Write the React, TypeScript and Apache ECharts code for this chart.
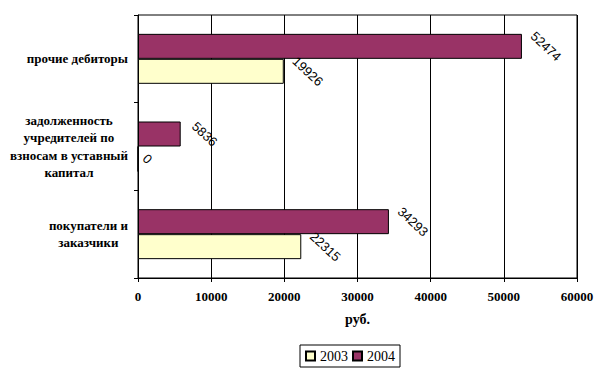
import React, { useEffect, useRef } from "react";
import * as echarts from "echarts";

const categories = [
  "покупатели и\nзаказчики",
  "задолженность\nучредителей по\nвзносам в уставный\nкапитал",
  "прочие дебиторы",
];
const seriesNames = ["2003", "2004"];
const values2003 = [22315, 0, 19926];
const values2004 = [34293, 5836, 52474];
const xTicks = { min: 0, max: 60000, interval: 10000 };
const axisName = "руб.";

const SERIF = "Liberation Serif";
const SANS = "Liberation Sans";

export default function App() {
  const ref = useRef<HTMLDivElement>(null);
  useEffect(() => {
    if (!ref.current) return;
    const chart = echarts.init(ref.current, undefined, { renderer: "svg" });
    const valueLabel = (data: number[]) =>
      data.map((v) => ({
        value: v,
        label: { distance: String(v).length < 3 ? 9 : 24 },
      }));
    const labelCfg = {
      show: true,
      position: "right",
      rotate: -43,
      align: "center",
      verticalAlign: "middle",
      fontFamily: SANS,
      fontSize: 13,
      fontWeight: "normal",
      color: "#000",
    };
    chart.setOption({
      animation: false,
      backgroundColor: "#fff",
      textStyle: { fontFamily: SERIF, color: "#000" },
      grid: {
        left: 138,
        right: 35,
        top: 15,
        bottom: 101,
        outerBoundsMode: "none",
        containLabel: false,
        show: true,
        borderColor: "#000",
        borderWidth: 1,
      },
      legend: {
        data: seriesNames,
        left: 300,
        top: 345,
        padding: [4, 5],
        itemGap: 4,
        itemWidth: 9,
        itemHeight: 9,
        icon: "rect",
        borderColor: "#000",
        borderWidth: 1,
        textStyle: { fontFamily: SERIF, fontSize: 14, color: "#000" },
      },
      xAxis: {
        type: "value",
        min: xTicks.min,
        max: xTicks.max,
        interval: xTicks.interval,
        name: axisName,
        nameLocation: "middle",
        nameGap: 34,
        nameTextStyle: {
          fontFamily: SERIF,
          fontSize: 14,
          fontWeight: "bold",
          color: "#000",
        },
        axisLine: { show: true, lineStyle: { color: "#000", width: 1 } },
        axisTick: { show: true, length: 4, lineStyle: { color: "#000" } },
        axisLabel: {
          margin: 12,
          formatter: (v: number) => String(v),
          fontFamily: SERIF,
          fontSize: 13,
          fontWeight: "bold",
          color: "#000",
        },
        splitLine: { show: true, lineStyle: { color: "#000", width: 1 } },
      },
      yAxis: {
        type: "category",
        data: categories,
        axisLine: { show: true, lineStyle: { color: "#000", width: 1 } },
        axisTick: { show: true, length: 4, lineStyle: { color: "#000" } },
        axisLabel: {
          margin: 10,
          align: "right",
          fontFamily: SERIF,
          fontSize: 13,
          fontWeight: "bold",
          color: "#000",
          formatter: (v: string) =>
            v
              .split("\n")
              .map((l) => `{c|${l}}`)
              .join("\n"),
          rich: {
            c: {
              align: "center",
              fontFamily: SERIF,
              fontSize: 13,
              fontWeight: "bold",
              color: "#000",
              lineHeight: 17.5,
            },
          },
        },
        splitLine: { show: false },
      },
      series: [
        {
          name: "2004",
          type: "bar",
          data: valueLabel(values2004),
          barCategoryGap: "43%",
          barGap: "0%",
          itemStyle: { color: "#993366", borderColor: "#000", borderWidth: 1 },
          label: labelCfg,
        },
        {
          name: "2003",
          type: "bar",
          data: valueLabel(values2003),
          barCategoryGap: "43%",
          barGap: "0%",
          itemStyle: { color: "#FFFFCC", borderColor: "#000", borderWidth: 1 },
          label: labelCfg,
        },
      ],
    });
    return () => chart.dispose();
  }, []);
  return (
    <div
      ref={ref}
      style={{ position: "fixed", left: 0, top: 0, width: 612, height: 379 }}
    />
  );
}
